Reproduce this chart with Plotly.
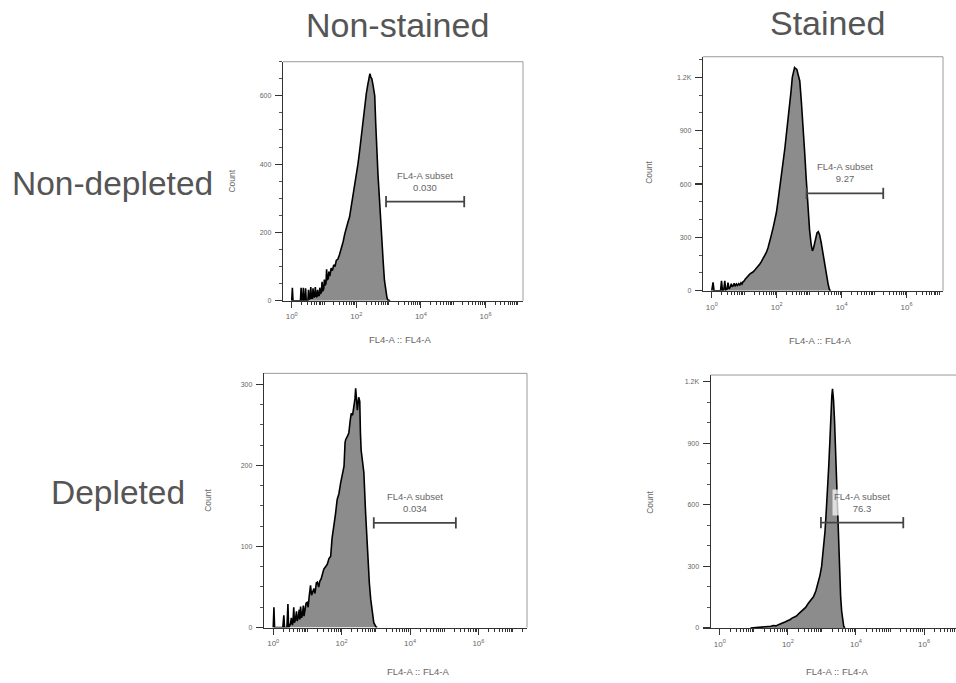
import numpy as np
import plotly.graph_objects as go

# ---------------- data (log10 FL4-A intensity, event count) ----------------
p1_log_fl4 = [0.00, 0.02, 0.04, 0.27, 0.29, 0.31, 0.34, 0.36, 0.38, 0.41, 0.43, 0.45, 0.50, 0.52, 0.54,
              0.57, 0.59, 0.61, 0.64, 0.66, 0.68, 0.71, 0.73, 0.75, 0.78, 0.80, 0.82, 0.85, 0.87, 0.89,
              0.92, 0.94, 0.96, 0.99, 1.01, 1.03, 1.06, 1.08, 1.10, 1.13, 1.15, 1.18, 1.22, 1.26, 1.30,
              1.34, 1.38, 1.43, 1.48, 1.53, 1.59, 1.64, 1.69, 1.74, 1.79, 1.85, 1.90, 1.95, 2.00, 2.05,
              2.10, 2.15, 2.21, 2.26, 2.31, 2.35, 2.39, 2.42, 2.45, 2.48, 2.52, 2.57, 2.60, 2.63, 2.67,
              2.72, 2.77, 2.83, 2.87, 2.91, 2.95, 2.98, 3.05]
p1_count = [0, 38, 0, 0, 38, 0, 0, 38, 0, 0, 36, 0, 0, 32, 4,
            6, 40, 8, 6, 36, 10, 12, 40, 14, 10, 32, 16, 14, 38, 20,
            25, 55, 28, 35, 62, 45, 50, 92, 60, 65, 85, 72, 95, 88, 105,
            100, 118, 122, 135, 150, 172, 195, 215, 230, 245, 280, 306, 340, 370, 400,
            437, 480, 525, 565, 607, 630, 656, 665, 655, 650, 630, 600, 520, 440, 370,
            292, 200, 117, 60, 29, 8, 2, 0]

p2_log_fl4 = [0.00, 0.04, 0.07, 0.27, 0.30, 0.33, 0.37, 0.40, 0.43, 0.47, 0.50, 0.53, 0.57, 0.60, 0.63,
              0.66, 0.69, 0.72, 0.76, 0.79, 0.83, 0.86, 0.90, 0.93, 0.96, 1.00, 1.03, 1.07, 1.10, 1.13,
              1.17, 1.22, 1.27, 1.32, 1.37, 1.42, 1.48, 1.53, 1.58, 1.63, 1.68, 1.73, 1.78, 1.83, 1.89,
              1.94, 1.99, 2.04, 2.09, 2.14, 2.19, 2.25, 2.30, 2.35, 2.40, 2.44, 2.48, 2.52, 2.55, 2.58,
              2.62, 2.66, 2.71, 2.76, 2.81, 2.86, 2.91, 2.96, 3.01, 3.06, 3.10, 3.14, 3.19, 3.24, 3.28,
              3.32, 3.37, 3.42, 3.48, 3.53, 3.58, 3.62, 3.66]
p2_count = [0, 47, 0, 0, 56, 0, 5, 56, 5, 8, 45, 10, 20, 40, 22,
            28, 42, 25, 38, 30, 40, 30, 45, 38, 50, 55, 65, 75, 80, 85,
            93, 100, 105, 115, 125, 138, 150, 165, 180, 198, 215, 240, 271, 310, 355,
            395, 440, 505, 570, 645, 720, 800, 885, 960, 1035, 1120, 1200, 1245, 1255, 1250,
            1245, 1215, 1180, 1060, 940, 780, 625, 480, 345, 260, 224, 245, 290, 325, 332,
            315, 270, 210, 150, 90, 40, 8, 0]

p3_log_fl4 = [0.00, 0.02, 0.04, 0.28, 0.31, 0.33, 0.40, 0.43, 0.45, 0.50, 0.53, 0.56, 0.58, 0.60, 0.62,
              0.65, 0.68, 0.70, 0.73, 0.76, 0.78, 0.80, 0.83, 0.86, 0.88, 0.90, 0.93, 0.96, 0.99, 1.02,
              1.05, 1.09, 1.12, 1.15, 1.19, 1.22, 1.26, 1.29, 1.33, 1.36, 1.40, 1.44, 1.48, 1.53, 1.58,
              1.63, 1.68, 1.72, 1.77, 1.82, 1.87, 1.92, 1.97, 2.02, 2.07, 2.10, 2.12, 2.16, 2.21, 2.25,
              2.28, 2.32, 2.36, 2.39, 2.41, 2.44, 2.46, 2.50, 2.53, 2.55, 2.57, 2.61, 2.65, 2.70, 2.74,
              2.77, 2.81, 2.85, 2.90, 2.94, 3.00, 3.04]
p3_count = [0, 25, 0, 0, 15, 0, 0, 29, 0, 4, 12, 3, 8, 25, 6,
            10, 20, 8, 12, 22, 10, 26, 12, 18, 27, 14, 22, 30, 31, 25,
            38, 52, 40, 45, 48, 42, 55, 56, 50, 57, 60, 66, 72, 75, 78,
            85, 88, 110, 129, 140, 158, 165, 178, 190, 199, 228, 232, 235, 240, 255,
            264, 262, 273, 282, 295, 272, 268, 284, 279, 240, 219, 205, 191, 142, 110,
            80, 55, 35, 15, 6, 1, 0]

p4_log_fl4 = [0.90, 1.03, 1.20, 1.35, 1.50, 1.57, 1.65, 1.72, 1.80, 1.86, 1.93, 2.00, 2.06, 2.12, 2.18,
              2.25, 2.32, 2.38, 2.45, 2.52, 2.60, 2.67, 2.75, 2.82, 2.89, 2.94, 2.99, 3.04, 3.09, 3.13,
              3.17, 3.20, 3.23, 3.26, 3.29, 3.31, 3.34, 3.37, 3.40, 3.43, 3.46, 3.49, 3.52, 3.55, 3.58,
              3.61, 3.64, 3.67]
p4_count = [0, 1, 3, 4, 8, 12, 10, 16, 20, 26, 30, 36, 40, 48, 52,
            58, 70, 80, 87, 100, 120, 135, 152, 180, 217, 255, 300, 380, 470, 580,
            680, 790, 900, 1040, 1130, 1165, 1110, 1010, 870, 700, 540, 390, 260, 150, 80,
            32, 8, 0]

panel_logs = [p1_log_fl4, p2_log_fl4, p3_log_fl4, p4_log_fl4]
panel_counts = [p1_count, p2_count, p3_count, p4_count]

# gate (FL4-A subset) limits in log10 units, gate height in counts, and % value
gate_lo = [2.92, 2.92, 2.94, 2.97]
gate_hi = [5.34, 5.28, 5.34, 5.39]
gate_y = [290, 547, 129, 513]
gate_pct = ["0.030", "9.27", "0.034", "76.3"]

y_tickvals = [[0, 200, 400, 600], [0, 300, 600, 900, 1200], [0, 100, 200, 300], [0, 300, 600, 900, 1200]]
y_ticktext = [["0", "200", "400", "600"], ["0", "300", "600", "900", "1.2K"],
              ["0", "100", "200", "300"], ["0", "300", "600", "900", "1.2K"]]
x_label_decades = [0, 2, 4, 6]
x_ticktext = ["10<sup>0</sup>", "10<sup>2</sup>", "10<sup>4</sup>", "10<sup>6</sup>"]

col_labels = ["Non-stained", "Stained"]
row_labels = ["Non-depleted", "Depleted"]
x_title = "FL4-A :: FL4-A"
y_title = "Count"
gate_name = "FL4-A subset"

# ---------------- layout geometry (pixels) ----------------
W, H = 956, 683
FONT = "Liberation Sans, Arial, Helvetica, sans-serif"
TXT = "#666666"
AX = "#333333"

panels = [
    dict(px=(283, 523), py=(62, 302), xr=(-0.27, 7.16), yr=(0, 700), ymin=50, right=True,
         count_pos=(231.7, 181.7), xt_pos=(400, 341)),
    dict(px=(703, 943), py=(57, 292), xr=(-0.27, 7.12), yr=(0, 1316), ymin=100, right=True,
         count_pos=(648.3, 173.3), xt_pos=(820, 341.7)),
    dict(px=(264, 527), py=(375, 630.3), xr=(-0.27, 7.42), yr=(0, 313.5), ymin=25, right=True,
         count_pos=(208, 503), xt_pos=(418.3, 674)),
    dict(px=(710.7, 956), py=(376.7, 630.7), xr=(-0.27, 6.94), yr=(0, 1232.5), ymin=100, right=False,
         count_pos=(650, 505), xt_pos=(836.7, 674)),
]


def fx(p):
    return p / W


def fy(p):
    return 1 - p / H


# minor ticks: 2..9 of every decade plus the unlabeled odd decades
minor_vals = sorted([k * 10 ** d for d in range(0, 8) for k in range(2, 10)] + [10, 1e3, 1e5, 1e7])

fig = go.Figure()
annotations = []
shapes = []

for i, pn in enumerate(panels):
    n = "" if i == 0 else str(i + 1)
    xa, ya = "x" + n, "y" + n
    xs = 10 ** np.array(panel_logs[i], dtype=float)
    fig.add_trace(go.Scatter(
        x=xs, y=panel_counts[i], mode="lines", fill="tozeroy",
        fillcolor="#8c8c8c", line=dict(color="#000000", width=1.6),
        xaxis=xa, yaxis=ya, hoverinfo="skip", showlegend=False))
    # gate bar
    gx = 10 ** np.array([gate_lo[i], gate_hi[i]])
    fig.add_trace(go.Scatter(
        x=gx, y=[gate_y[i], gate_y[i]], mode="lines+markers",
        line=dict(color="#444444", width=1.8),
        marker=dict(symbol="line-ns", size=8, line=dict(width=1.8, color="#444444")),
        xaxis=xa, yaxis=ya, hoverinfo="skip", showlegend=False))
    annotations.append(dict(
        x=(gate_lo[i] + gate_hi[i]) / 2, y=gate_y[i], xref=xa, yref=ya,
        text=gate_name + "<br>" + gate_pct[i], showarrow=False,
        xanchor="center", yanchor="bottom", yshift=7,
        font=dict(family=FONT, size=9.5, color=TXT),
        bgcolor="rgba(255,255,255,0.72)", borderpad=1))

    xaxis = dict(
        domain=[fx(pn["px"][0]), fx(pn["px"][1])], anchor=ya, type="log",
        range=list(pn["xr"]), tickmode="array",
        tickvals=[10 ** d for d in x_label_decades], ticktext=x_ticktext,
        ticks="outside", ticklen=6, tickwidth=1, tickcolor=AX,
        minor=dict(tickmode="array", tickvals=minor_vals, ticks="outside", ticklen=3,
                   tickwidth=1, tickcolor=AX, showgrid=False),
        showline=True, linecolor=AX, linewidth=1.2, showgrid=False, zeroline=False,
        tickfont=dict(family=FONT, size=8, color=TXT), ticklabelstandoff=2, fixedrange=True)
    yaxis = dict(
        domain=[fy(pn["py"][1]), fy(pn["py"][0])], anchor=xa,
        range=list(pn["yr"]), tickmode="array", tickvals=y_tickvals[i], ticktext=y_ticktext[i],
        ticks="outside", ticklen=7, tickwidth=1.2, tickcolor=AX,
        minor=dict(dtick=pn["ymin"], ticks="outside", ticklen=3, tickwidth=1,
                   tickcolor="#555555", showgrid=False),
        showline=True, linecolor=AX, linewidth=1.2, showgrid=False, zeroline=False,
        tickfont=dict(family=FONT, size=7, color=TXT), ticklabelstandoff=2, fixedrange=True)
    fig.update_layout(**{"xaxis" + n: xaxis, "yaxis" + n: yaxis})

    # frame (top and right)
    shapes.append(dict(type="line", xref=xa + " domain", yref=ya + " domain",
                       x0=0, x1=1, y0=1, y1=1, line=dict(color="#9a9a9a", width=1)))
    if pn["right"]:
        shapes.append(dict(type="line", xref=xa + " domain", yref=ya + " domain",
                           x0=1, x1=1, y0=0, y1=1, line=dict(color="#9a9a9a", width=1)))

    annotations.append(dict(x=fx(pn["count_pos"][0]), y=fy(pn["count_pos"][1]), xref="paper",
                            yref="paper", text=y_title, textangle=-90, showarrow=False,
                            xanchor="center", yanchor="middle",
                            font=dict(family=FONT, size=8.5, color=TXT)))
    annotations.append(dict(x=fx(pn["xt_pos"][0]), y=fy(pn["xt_pos"][1]), xref="paper",
                            yref="paper", text=x_title, showarrow=False,
                            xanchor="center", yanchor="middle",
                            font=dict(family=FONT, size=9.5, color=TXT)))

# row / column headings
for txt, (cx, cy) in zip(col_labels, [(397, 25), (827, 23)]):
    annotations.append(dict(x=fx(cx), y=fy(cy), xref="paper", yref="paper", text=txt,
                            showarrow=False, xanchor="center", yanchor="middle",
                            font=dict(family=FONT, size=34, color="#555555")))
for txt, (cx, cy) in zip(row_labels, [(112, 184), (118, 495)]):
    annotations.append(dict(x=fx(cx), y=fy(cy), xref="paper", yref="paper", text=txt,
                            showarrow=False, xanchor="center", yanchor="middle",
                            font=dict(family=FONT, size=33.5, color="#555555")))

fig.update_layout(
    width=W, height=H, margin=dict(l=0, r=0, t=0, b=0),
    paper_bgcolor="white", plot_bgcolor="white", showlegend=False,
    annotations=annotations, shapes=shapes, font=dict(family=FONT))

fig.write_html("out.html",
               config={"displayModeBar": False, "staticPlot": True},
               post_script="document.body.style.margin='0px';document.body.style.padding='0px';"
                           "document.body.style.overflow='hidden';")
